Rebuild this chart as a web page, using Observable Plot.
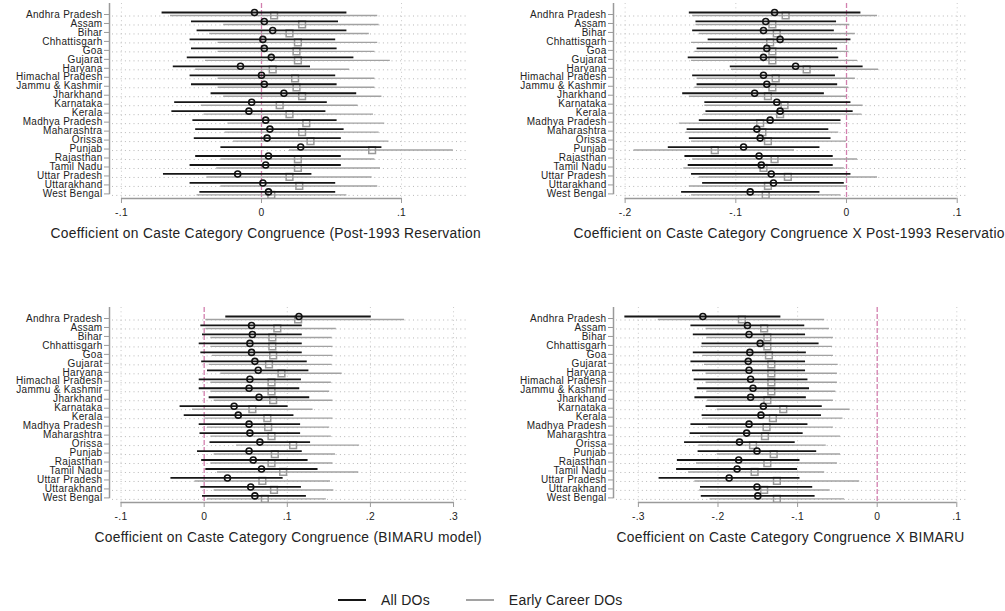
<!DOCTYPE html>
<html>
<head>
<meta charset="utf-8">
<script src="https://cdn.jsdelivr.net/npm/d3@7"></script>
<script src="https://cdn.jsdelivr.net/npm/@observablehq/plot@0.6"></script>
<style>
  html, body { margin: 0; padding: 0; background: #fff; }
  #page { position: relative; width: 1005px; height: 611px; overflow: hidden; background: #fff;
          font-family: "Liberation Sans", Arial, Helvetica, sans-serif; }
  .panel { position: absolute; }
  .panel svg { display: block; max-width: none; }
  #legend { position: absolute; left: 338px; top: 592px; display: flex; align-items: center;
            font-size: 14px; color: #222; letter-spacing: 0.2px; }
  .sw { display: inline-block; width: 28px; height: 0; }
</style>
</head>
<body>
<div id="page"></div>
<script>
const states = ["Andhra Pradesh","Assam","Bihar","Chhattisgarh","Goa","Gujarat","Haryana",
  "Himachal Pradesh","Jammu & Kashmir","Jharkhand","Karnataka","Kerala","Madhya Pradesh",
  "Maharashtra","Orissa","Punjab","Rajasthan","Tamil Nadu","Uttar Pradesh","Uttarakhand","West Bengal"];

const seriesNames = ["All DOs", "Early Career DOs"];

// Panel 1: Post-1993 Reservation model
const p1AllEst = [-0.005,0.002,0.008,0.001,0.002,0.007,-0.015,0.000,0.002,0.016,-0.007,-0.009,0.003,0.006,0.004,0.028,0.005,0.003,-0.017,0.001,0.005];
const p1AllLo  = [-0.071,-0.050,-0.046,-0.051,-0.050,-0.053,-0.063,-0.051,-0.050,-0.036,-0.062,-0.064,-0.049,-0.047,-0.048,-0.029,-0.047,-0.051,-0.070,-0.051,-0.044];
const p1AllHi  = [0.061,0.055,0.061,0.053,0.054,0.066,0.035,0.053,0.054,0.068,0.047,0.046,0.054,0.059,0.057,0.086,0.057,0.057,0.036,0.053,0.053];
const p1EarlyEst = [0.009,0.029,0.020,0.026,0.025,0.026,0.008,0.024,0.025,0.029,0.013,0.020,0.032,0.029,0.035,0.079,0.026,0.026,0.020,0.027,0.007];
const p1EarlyLo  = [-0.065,-0.027,-0.037,-0.031,-0.031,-0.040,-0.047,-0.031,-0.031,-0.027,-0.043,-0.041,-0.024,-0.026,-0.020,0.020,-0.029,-0.032,-0.039,-0.029,-0.046];
const p1EarlyHi  = [0.083,0.084,0.077,0.083,0.081,0.092,0.063,0.081,0.081,0.086,0.069,0.080,0.088,0.084,0.091,0.137,0.081,0.085,0.079,0.083,0.061];

// Panel 2: Congruence X Post-1993 Reservation
const p2AllEst = [-0.065,-0.073,-0.075,-0.060,-0.072,-0.075,-0.046,-0.075,-0.072,-0.083,-0.063,-0.060,-0.069,-0.081,-0.078,-0.093,-0.079,-0.077,-0.068,-0.066,-0.087];
const p2AllLo  = [-0.142,-0.136,-0.139,-0.125,-0.135,-0.143,-0.105,-0.139,-0.135,-0.148,-0.128,-0.127,-0.133,-0.144,-0.142,-0.161,-0.146,-0.143,-0.140,-0.130,-0.149];
const p2AllHi  = [0.013,-0.009,-0.011,0.004,-0.008,-0.007,0.015,-0.010,-0.008,-0.020,0.004,0.006,-0.005,-0.016,-0.014,-0.024,-0.012,-0.012,0.004,-0.002,-0.024];
const p2EarlyEst = [-0.055,-0.067,-0.063,-0.069,-0.067,-0.067,-0.036,-0.064,-0.067,-0.071,-0.056,-0.060,-0.078,-0.076,-0.071,-0.119,-0.065,-0.075,-0.053,-0.071,-0.073];
const p2EarlyLo  = [-0.139,-0.136,-0.133,-0.140,-0.137,-0.140,-0.104,-0.135,-0.137,-0.142,-0.128,-0.129,-0.151,-0.145,-0.140,-0.192,-0.139,-0.147,-0.133,-0.142,-0.140];
const p2EarlyHi  = [0.028,0.003,0.008,0.001,0.002,0.010,0.029,0.008,0.002,0.000,0.015,0.014,-0.005,-0.007,0.000,-0.047,0.010,-0.002,0.028,0.000,-0.005];

// Panel 3: BIMARU model
const p3AllEst = [0.114,0.057,0.058,0.055,0.057,0.061,0.065,0.055,0.054,0.066,0.036,0.041,0.054,0.055,0.067,0.054,0.059,0.069,0.028,0.056,0.061];
const p3AllLo  = [0.026,-0.004,-0.002,-0.006,-0.004,-0.003,0.004,-0.006,-0.006,0.006,-0.029,-0.024,-0.006,-0.005,0.007,-0.008,-0.003,0.002,-0.040,-0.004,-0.002];
const p3AllHi  = [0.201,0.118,0.118,0.118,0.118,0.124,0.126,0.117,0.115,0.127,0.101,0.108,0.116,0.116,0.128,0.118,0.125,0.137,0.095,0.117,0.123];
const p3EarlyEst = [0.113,0.088,0.082,0.082,0.083,0.078,0.093,0.081,0.081,0.083,0.058,0.076,0.077,0.081,0.107,0.085,0.081,0.095,0.070,0.084,0.073];
const p3EarlyLo  = [0.002,0.002,0.008,0.008,0.010,0.006,0.020,0.008,0.008,0.012,-0.014,0.000,0.004,0.008,0.039,0.012,0.008,0.016,-0.011,0.012,0.004];
const p3EarlyHi  = [0.241,0.159,0.154,0.155,0.155,0.154,0.166,0.153,0.151,0.155,0.131,0.155,0.151,0.153,0.187,0.158,0.155,0.186,0.152,0.156,0.147];

// Panel 4: Congruence X BIMARU
const p4AllEst = [-0.219,-0.163,-0.161,-0.147,-0.160,-0.162,-0.161,-0.159,-0.156,-0.159,-0.143,-0.146,-0.161,-0.164,-0.173,-0.151,-0.174,-0.176,-0.186,-0.151,-0.150];
const p4AllLo  = [-0.317,-0.234,-0.231,-0.220,-0.231,-0.234,-0.232,-0.230,-0.226,-0.229,-0.215,-0.220,-0.234,-0.235,-0.242,-0.225,-0.251,-0.252,-0.274,-0.222,-0.221];
const p4AllHi  = [-0.121,-0.091,-0.090,-0.073,-0.089,-0.090,-0.090,-0.087,-0.085,-0.089,-0.069,-0.070,-0.087,-0.093,-0.103,-0.076,-0.097,-0.100,-0.097,-0.081,-0.078];
const p4EarlyEst = [-0.170,-0.142,-0.138,-0.138,-0.136,-0.133,-0.133,-0.133,-0.133,-0.138,-0.118,-0.131,-0.139,-0.141,-0.156,-0.130,-0.138,-0.154,-0.126,-0.142,-0.126];
const p4EarlyLo  = [-0.275,-0.215,-0.214,-0.221,-0.219,-0.217,-0.215,-0.215,-0.214,-0.213,-0.201,-0.219,-0.212,-0.222,-0.224,-0.201,-0.227,-0.237,-0.229,-0.223,-0.210];
const p4EarlyHi  = [-0.066,-0.060,-0.055,-0.056,-0.055,-0.049,-0.050,-0.050,-0.052,-0.055,-0.034,-0.043,-0.055,-0.046,-0.064,-0.046,-0.050,-0.066,-0.022,-0.059,-0.041];

// Tick values and labels
const p1Ticks = [-0.1, 0, 0.1];            const p1TickLabels = ["-.1", "0", ".1"];
const p2Ticks = [-0.2, -0.1, 0, 0.1];      const p2TickLabels = ["-.2", "-.1", "0", ".1"];
const p3Ticks = [-0.1, 0, 0.1, 0.2, 0.3];  const p3TickLabels = ["-.1", "0", ".1", ".2", ".3"];
const p4Ticks = [-0.3, -0.2, -0.1, 0, 0.1]; const p4TickLabels = ["-.3", "-.2", "-.1", "0", ".1"];

const titles = [
  "Coefficient on Caste Category Congruence (Post-1993 Reservation",
  "Coefficient on Caste Category Congruence X Post-1993 Reservatio",
  "Coefficient on Caste Category Congruence (BIMARU model)",
  "Coefficient on Caste Category Congruence X BIMARU"
];

const colAll = "#161616", colEarly = "#a2a2a2", colZero = "#d27fae", colAxis = "#9a9a9a";

function rows(est, lo, hi) {
  return states.map((s, i) => ({i, state: s, est: est[i], lo: lo[i], hi: hi[i]}));
}

function panel(cfg) {
  const n = states.length;
  const H = 250, top = 3, bottom = 198, rowTop = 14, rowStep = 8.97;
  const yDomain = [(top - rowTop) / rowStep, (bottom - rowTop) / rowStep];
  const idx = d3.range(n);
  const all = rows(cfg.all[0], cfg.all[1], cfg.all[2]);
  const early = rows(cfg.early[0], cfg.early[1], cfg.early[2]);
  const ticks = cfg.ticks;
  return Plot.plot({
    width: cfg.width, height: H,
    marginLeft: 112, marginRight: cfg.width - cfg.right, marginTop: top, marginBottom: H - bottom,
    style: {fontFamily: "'Liberation Sans', Arial, Helvetica, sans-serif", background: "#fff", color: "#222",
            letterSpacing: "0.3px"},
    x: {domain: cfg.xDomain},
    y: {domain: yDomain, reverse: true},
    marks: [
      Plot.ruleY(idx, {y: d => d, dy: 1.5, stroke: "#b0b0b0", strokeWidth: 0.9, strokeDasharray: "1,3.3"}),
      Plot.ruleX(ticks.filter(t => t !== 0), {stroke: "#c4c4c4", strokeWidth: 0.9, strokeDasharray: "1,3.3"}),
      Plot.ruleX([0], {stroke: colZero, strokeWidth: 1.3, strokeDasharray: "5,2"}),
      Plot.ruleX([cfg.xDomain[0]], {y1: yDomain[0], y2: n - 1 + 0.1, dx: -3, stroke: colAxis, strokeWidth: 1.5}),
      Plot.axisY({ticks: idx, tickFormat: i => states[i], tickSize: 5, tickPadding: 2, dx: -3,
                  stroke: colAxis, fill: "#222", fontSize: 10, label: null}),
      Plot.ruleY([yDomain[1]], {x1: ticks[0], x2: ticks[ticks.length - 1], stroke: colAxis, strokeWidth: 1.5}),
      Plot.axisX({ticks, tickFormat: d => cfg.tickLabels[ticks.indexOf(d)], tickSize: 5, tickPadding: 5,
                  stroke: colAxis, fill: "#222", fontSize: 10.3, label: null}),
      Plot.ruleY(early, {y: "i", x1: "lo", x2: "hi", dy: 1, stroke: colEarly, strokeWidth: 1.4}),
      Plot.dot(early, {x: "est", y: "i", dy: 1, symbol: "square", r: 3.8, stroke: "#999", strokeWidth: 1.5, fill: "none"}),
      Plot.ruleY(all, {y: "i", x1: "lo", x2: "hi", dy: -2, stroke: colAll, strokeWidth: 1.8}),
      Plot.dot(all, {x: "est", y: "i", dy: -2, r: 3, stroke: "#111", strokeWidth: 1.6, fill: "none"}),
      Plot.text([cfg.title], {frameAnchor: "bottom-left", dx: cfg.titleX - 112, dy: 39, textAnchor: "start",
                              fontSize: 13.8, fill: "#222"})
    ]
  });
}

const panels = [
  {left: 0, topPos: 0, width: 483, right: 466, xDomain: [-0.1064, 0.1464], ticks: p1Ticks, tickLabels: p1TickLabels,
   all: [p1AllEst, p1AllLo, p1AllHi], early: [p1EarlyEst, p1EarlyLo, p1EarlyHi], title: titles[0], titleX: 50},
  {left: 504, topPos: 0, width: 501, right: 464, xDomain: [-0.2078, 0.1102], ticks: p2Ticks, tickLabels: p2TickLabels,
   all: [p2AllEst, p2AllLo, p2AllHi], early: [p2EarlyEst, p2EarlyLo, p2EarlyHi], title: titles[1], titleX: 69},
  {left: 0, topPos: 304, width: 483, right: 466, xDomain: [-0.1103, 0.3156], ticks: p3Ticks, tickLabels: p3TickLabels,
   all: [p3AllEst, p3AllLo, p3AllHi], early: [p3EarlyEst, p3EarlyLo, p3EarlyHi], title: titles[2], titleX: 94},
  {left: 504, topPos: 304, width: 501, right: 464, xDomain: [-0.3275, 0.1147], ticks: p4Ticks, tickLabels: p4TickLabels,
   all: [p4AllEst, p4AllLo, p4AllHi], early: [p4EarlyEst, p4EarlyLo, p4EarlyHi], title: titles[3], titleX: 112}
];

const page = document.getElementById("page");
for (const cfg of panels) {
  const div = document.createElement("div");
  div.className = "panel";
  div.style.left = cfg.left + "px";
  div.style.top = cfg.topPos + "px";
  div.style.width = cfg.width + "px";
  div.appendChild(panel(cfg));
  page.appendChild(div);
}

// Legend
const legend = document.createElement("div");
legend.id = "legend";
const legendCols = [colAll, colEarly];
seriesNames.forEach((name, k) => {
  const sw = document.createElement("span");
  sw.className = "sw";
  sw.style.borderTop = "2px solid " + legendCols[k];
  if (k > 0) sw.style.marginLeft = "36px";
  const t = document.createElement("span");
  t.textContent = name;
  t.style.marginLeft = "15px";
  legend.appendChild(sw);
  legend.appendChild(t);
});
page.appendChild(legend);
</script>
</body>
</html>
